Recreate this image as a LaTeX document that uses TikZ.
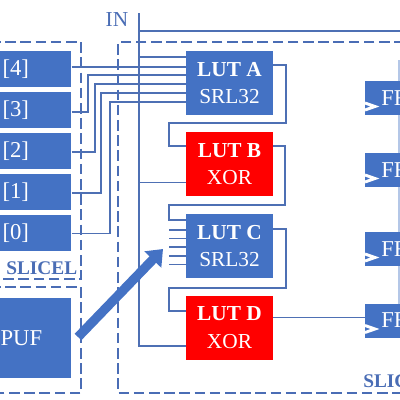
\documentclass[tikz,border=0pt]{standalone}
\usepackage{fontspec}
\setmainfont{Liberation Serif}
\usetikzlibrary{arrows.meta,calc}
\definecolor{bluefill}{HTML}{4472C4}
\definecolor{wirec}{HTML}{4E70B4}
\definecolor{dashc}{HTML}{4A6DB5}
\definecolor{lightc}{HTML}{B4C7E7}
\tikzset{
  box/.style={fill=bluefill,draw=none,inner sep=0pt,text=white,font=\fontsize{17}{19}\selectfont},
  inbox/.style={box,text width=54pt,align=left,minimum height=27pt},
  lut/.style={box,minimum width=65.25pt,minimum height=48pt,align=center,font=\fontsize{16}{20.5}\selectfont},
  redlut/.style={lut,fill=red},
  ffbox/.style={box,text width=45pt,align=left,minimum height=25.5pt},
  wire/.style={draw=wirec,line width=0.95pt},
  region/.style={draw=dashc,line width=2.1pt,dash pattern=on 8pt off 3.4pt},
  clk/.style={draw=white,line width=2.2pt},
  slicelabel/.style={text=dashc,font=\fontsize{14.5}{15}\selectfont\bfseries,inner sep=0pt},
}
\begin{document}
\begin{tikzpicture}[x=0.75pt,y=-0.75pt]
\useasboundingbox (0,0) rectangle (400,400);
\clip (0,0) rectangle (400,400);
% regions
\draw[region] (-10,42) -- (81,42) -- (81,279) -- (-10,279);
\draw[region] (-10,287) -- (81,287) -- (81,393) -- (-10,393);
\draw[region] (420,42) -- (118,42) -- (118,393) -- (420,393);
% right bus
\draw[draw=lightc,line width=1pt] (399,60) -- (399,305);
% input boxes
\node[inbox,anchor=west] (b4) at (-1,69) {\hspace{2.5pt}[4]};
\node[inbox,anchor=west] (b3) at (-1,110) {\hspace{2.5pt}[3]};
\node[inbox,anchor=west] (b2) at (-1,151) {\hspace{2.5pt}[2]};
\node[inbox,anchor=west] (b1) at (-1,192) {\hspace{2.5pt}[1]};
\node[inbox,anchor=west] (b0) at (-1,233) {\hspace{2.5pt}[0]};
\node[box,text width=54pt,align=left,minimum height=60pt,anchor=west] (puf) at (-1,338) {\hspace{1pt}PUF};
% LUTs
\node[lut] (la) at (229.5,83) {\textbf{LUT A}\\SRL32};
\node[redlut] (lb) at (229.5,164) {\textbf{LUT B}\\XOR};
\node[lut] (lc) at (229.5,246) {\textbf{LUT C}\\SRL32};
\node[redlut] (ld) at (229.5,327.5) {\textbf{LUT D}\\XOR};
% FFs
\node[ffbox,anchor=west] (f1) at (365,98) {\hspace{12pt}FF};
\node[ffbox,anchor=west] (f2) at (365,170) {\hspace{12pt}FF};
\node[ffbox,anchor=west] (f3) at (365,249) {\hspace{12pt}FF};
\node[ffbox,anchor=west] (f4) at (365,320.5) {\hspace{12pt}FF};
% clock marks
\foreach \n/\y in {f1/106.5,f2/178.5,f3/257.5,f4/329}{
  \draw[clk] (\n.west |- 0,\y-3.5) -- ($(\n.west |- 0,\y)+(10,0)$) -- (\n.west |- 0,\y+3.5);
}
% IN bus
\coordinate (intop) at (139,13);
\node[text=dashc,font=\fontsize{16}{16}\selectfont,inner sep=0pt] (inl) at (117,20) {IN};
\draw[wire] (intop) -- (139,346) -- (ld.west |- 0,346);
\draw[wire] (139,31) -- (420,31);
\draw[wire] (139,57) -- (la.west |- 0,57);
\draw[wire] (139,182.5) -- (lb.west |- 0,182.5);
% input wires
\draw[wire] (b4.east |- 0,67) -- (la.west |- 0,67);
\draw[wire] (b3.east |- 0,112) -- (88,112) -- (88,75) -- (la.west |- 0,75);
\draw[wire] (b2.east |- 0,152) -- (95,152) -- (95,84) -- (la.west |- 0,84);
\draw[wire] (b1.east |- 0,193) -- (101,193) -- (101,93) -- (la.west |- 0,93);
\draw[wire] (b0.east |- 0,233.5) -- (110,233.5) -- (110,102) -- (la.west |- 0,102);
% cascade
\draw[wire] (la.east |- 0,65) -- (286,65) -- (286,123) -- (169,123) -- (169,146) -- (lb.west |- 0,146);
\draw[wire] (lb.east |- 0,146) -- (285,146) -- (285,205) -- (169,205) -- (169,220) -- (lc.west |- 0,220);
\draw[wire] (lc.east |- 0,229) -- (286,229) -- (286,288) -- (169,288) -- (169,311) -- (ld.west |- 0,311);
\draw[wire,line width=1.2pt] (ld.east |- 0,317.5) -- (f4.west |- 0,317.5);
% LUT C stubs
\foreach \y in {230,238.5,247,256,264.5}{
  \draw[wire] (169,\y) -- (lc.west |- 0,\y);
}
% PUF arrow
\coordinate (pa) at (78,337);
\coordinate (pb) at (163,249);
\draw[draw=bluefill,line width=7pt,-{Triangle[length=11pt,width=17pt]}] (pa) -- (pb);
% labels
\node[slicelabel,anchor=west] (sl) at (6,268) {SLICEL};
\node[slicelabel,anchor=west] (sr) at (363,381) {SLIC};
\end{tikzpicture}
\end{document}
